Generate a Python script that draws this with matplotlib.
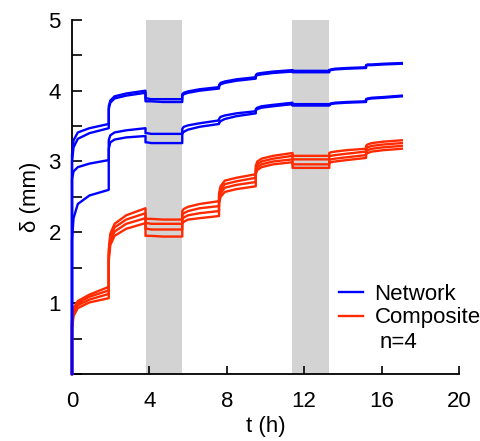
import matplotlib.pyplot as plt

plt.rcParams['font.family'] = ['Liberation Sans', 'DejaVu Sans']

# time points (h), shared by all curves
t_h = [0, 0, 0.08, 0.3, 0.9, 1.9,
       1.9, 1.98, 2.2, 2.8, 3.8,
       3.8, 3.88, 4.1, 4.7, 5.7,
       5.7, 5.78, 6.0, 6.6, 7.6,
       7.6, 7.68, 7.9, 8.5, 9.5,
       9.5, 9.58, 9.8, 10.4, 11.4,
       11.4, 11.48, 11.7, 12.3, 13.3,
       13.3, 13.38, 13.6, 14.2, 15.2,
       15.2, 15.28, 15.5, 16.1, 17.05]

# network (blue) displacement, mm
net1 = [0, 3.1, 3.3, 3.41, 3.47, 3.53,
        3.78, 3.86, 3.92, 3.96, 4.0,
        3.89, 3.89, 3.88, 3.88, 3.88,
        3.95, 3.97, 3.99, 4.02, 4.05,
        4.08, 4.11, 4.13, 4.16, 4.19,
        4.22, 4.24, 4.25, 4.27, 4.29,
        4.28, 4.28, 4.28, 4.28, 4.28,
        4.29, 4.3, 4.31, 4.32, 4.33,
        4.36, 4.37, 4.37, 4.38, 4.39]
net2 = [0, 3.0, 3.2, 3.32, 3.4, 3.47,
        3.74, 3.83, 3.89, 3.93, 3.97,
        3.85, 3.85, 3.85, 3.84, 3.84,
        3.93, 3.95, 3.97, 4.0, 4.03,
        4.06, 4.09, 4.11, 4.14, 4.17,
        4.2, 4.22, 4.23, 4.25, 4.27,
        4.26, 4.26, 4.26, 4.26, 4.26,
        4.28, 4.29, 4.3, 4.31, 4.32,
        4.35, 4.36, 4.36, 4.37, 4.38]
net3 = [0, 2.75, 2.86, 2.92, 2.97, 3.02,
        3.3, 3.37, 3.41, 3.44, 3.47,
        3.4, 3.4, 3.39, 3.39, 3.39,
        3.46, 3.49, 3.51, 3.54, 3.58,
        3.6, 3.63, 3.65, 3.68, 3.71,
        3.74, 3.76, 3.78, 3.8, 3.83,
        3.81, 3.81, 3.81, 3.81, 3.81,
        3.81, 3.82, 3.83, 3.84, 3.85,
        3.88, 3.89, 3.9, 3.91, 3.93]
net4 = [0, 1.9, 2.2, 2.4, 2.52, 2.6,
        3.18, 3.27, 3.31, 3.34, 3.36,
        3.27, 3.27, 3.26, 3.26, 3.26,
        3.39, 3.42, 3.45, 3.49, 3.53,
        3.54, 3.57, 3.6, 3.64, 3.68,
        3.72, 3.74, 3.76, 3.78, 3.81,
        3.79, 3.79, 3.79, 3.79, 3.79,
        3.8, 3.81, 3.82, 3.83, 3.84,
        3.87, 3.88, 3.89, 3.9, 3.92]

# composite (red) displacement, mm
comp1 = [0, 0.75, 0.93, 1.03, 1.12, 1.23,
         1.75, 1.98, 2.12, 2.24, 2.34,
         2.19, 2.19, 2.19, 2.18, 2.18,
         2.3, 2.33, 2.36, 2.4, 2.44,
         2.55, 2.65, 2.73, 2.77, 2.82,
         2.94, 3.0, 3.04, 3.08, 3.12,
         3.08, 3.08, 3.08, 3.08, 3.08,
         3.12, 3.13, 3.14, 3.16, 3.18,
         3.22, 3.24, 3.26, 3.28, 3.3]
comp2 = [0, 0.72, 0.9, 1.0, 1.09, 1.18,
         1.7, 1.93, 2.07, 2.18, 2.27,
         2.13, 2.13, 2.12, 2.12, 2.12,
         2.24, 2.27, 2.3, 2.34, 2.37,
         2.5, 2.6, 2.68, 2.72, 2.77,
         2.9, 2.96, 3.0, 3.04, 3.08,
         3.03, 3.03, 3.03, 3.03, 3.03,
         3.07, 3.08, 3.09, 3.11, 3.14,
         3.18, 3.2, 3.22, 3.24, 3.26]
comp3 = [0, 0.68, 0.86, 0.97, 1.05, 1.13,
         1.65, 1.88, 2.01, 2.12, 2.2,
         2.05, 2.05, 2.04, 2.04, 2.04,
         2.18, 2.21, 2.24, 2.27, 2.3,
         2.45, 2.55, 2.63, 2.67, 2.71,
         2.86, 2.92, 2.96, 3.0, 3.03,
         2.96, 2.96, 2.96, 2.96, 2.96,
         3.02, 3.03, 3.04, 3.06, 3.09,
         3.14, 3.16, 3.18, 3.2, 3.22]
comp4 = [0, 0.62, 0.82, 0.93, 1.01, 1.07,
         1.6, 1.82, 1.95, 2.05, 2.13,
         1.95, 1.95, 1.95, 1.94, 1.94,
         2.12, 2.15, 2.18, 2.2, 2.23,
         2.4, 2.5, 2.57, 2.61, 2.65,
         2.82, 2.88, 2.92, 2.96, 2.99,
         2.91, 2.91, 2.91, 2.91, 2.91,
         2.98, 2.99, 3.0, 3.02, 3.05,
         3.1, 3.12, 3.14, 3.16, 3.18]

# shaded intervals (h)
band_start = [3.81, 11.39]
band_end = [5.70, 13.28]

blue = "#0000ff"
red = "#ff2a00"
fs = 16

fig = plt.figure(figsize=(4.8, 4.41), dpi=100)
ax = fig.add_axes([0.15, 0.152, 0.806, 0.803])

for s, e in zip(band_start, band_end):
    ax.axvspan(s, e, color="#d3d3d3", lw=0, zorder=1)

for c in [comp1, comp2, comp3, comp4]:
    ax.plot(t_h, c, color=red, lw=1.7, zorder=3, clip_on=False)
for c in [net1, net2, net3, net4]:
    ax.plot(t_h, c, color=blue, lw=1.7, zorder=4, clip_on=False)

ax.set_xlim(0, 20)
ax.set_ylim(0, 5)
ax.set_xticks([0, 4, 8, 12, 16, 20])
ax.set_yticks([0, 0.5, 1, 1.5, 2, 2.5, 3, 3.5, 4, 4.5, 5])
ax.set_yticklabels(["", "", "1", "", "2", "", "3", "", "4", "", "5"])
ax.tick_params(axis="x", direction="in", length=6, width=1.2, labelsize=fs, pad=12)
ax.tick_params(axis="y", direction="in", length=7.5, width=1.2, labelsize=fs, pad=8)
for side in ["top", "right"]:
    ax.spines[side].set_visible(False)
for side in ["left", "bottom"]:
    ax.spines[side].set_linewidth(1.3)

ax.set_xlabel("t (h)", fontsize=fs, labelpad=3)
ax.set_ylabel("δ (mm)", fontsize=fs, labelpad=5)

h1, = ax.plot([], [], color=blue, lw=1.7)
h2, = ax.plot([], [], color=red, lw=1.7)
ax.legend([h1, h2], ["Network", "Composite"], loc="upper left",
          bbox_to_anchor=(0.69, 0.255), frameon=False, fontsize=fs,
          handlelength=1.1, handletextpad=0.5, labelspacing=0.12,
          borderpad=0, borderaxespad=0)
ax.text(15.9, 0.44, "n=4", fontsize=fs, va="center", ha="left")

fig.savefig("out.png", dpi=100)
